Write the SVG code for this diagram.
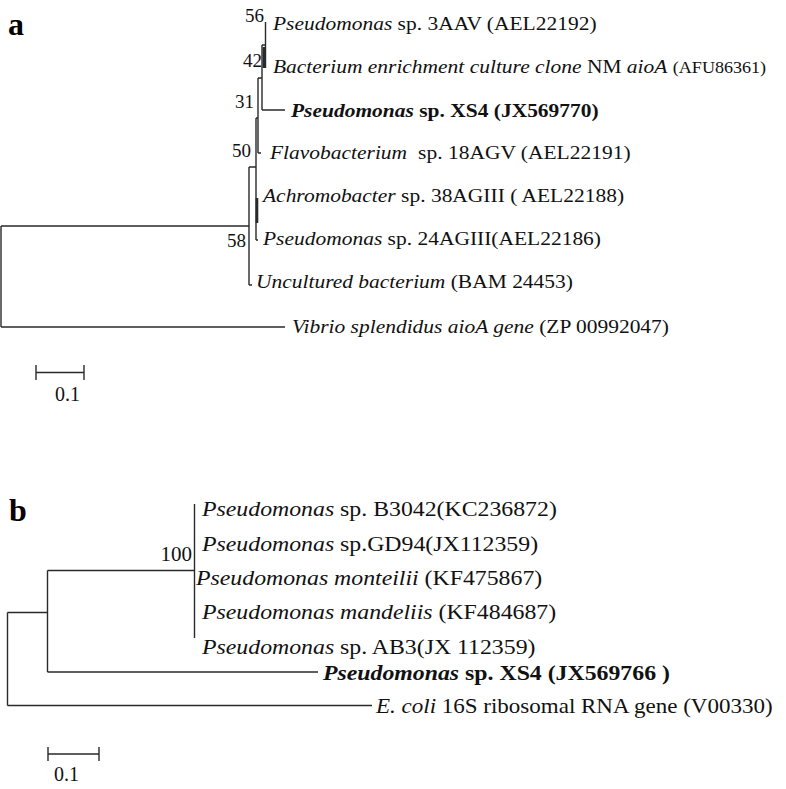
<svg xmlns="http://www.w3.org/2000/svg" width="786" height="789" viewBox="0 0 786 789">
<style>
  .t { font-family: "Liberation Serif", "Times New Roman", serif; fill: #111; }
  .ta { font-size: 19px; }
  .tb { font-size: 20px; }
  .sm { font-size: 16px; }
  .bs { font-family: "Liberation Serif", "Times New Roman", serif; font-size: 19px; fill: #111; text-anchor: end; }
  .pl { font-family: "Liberation Serif", "Times New Roman", serif; font-size: 32px; font-weight: bold; fill: #000; }
  .br { fill: none; stroke: #2a2a2a; stroke-width: 1.4; }
  .thk { fill: none; stroke: #2a2a2a; stroke-width: 2.6; }
</style>
<rect width="786" height="789" fill="#fff"/>

<g id="panel-labels">
  <text class="pl" x="8" y="35">a</text>
  <text class="pl" x="9" y="521">b</text>
</g>

<g id="connectors">
  <!-- panel a -->
  <path class="br" d="M1,226 V327 M1,226 H249 M1,327 H285"/>
  <path class="br" d="M249,167 V285 M249,285 H252 M249,167 H256"/>
  <path class="br" d="M256,118 V240 M256,240 H258"/>
  <path class="thk" d="M257,198 V223"/>
  <path class="br" d="M256,118 H258 M258,78 V153 M258,153 H261"/>
  <path class="br" d="M258,78 H262 M262,45 V110 M262,110 H285"/>
  <path class="br" d="M262,45 H265.5 M265.5,22 V68"/>
  <path class="thk" d="M264,47 V68"/>
  <!-- scale a -->
  <path class="br" d="M36,372.5 H84 M36,365 V380 M84,365 V380"/>
  <!-- panel b -->
  <path class="br" d="M194.5,504 V638 M47.5,570.5 H194.5 M47.5,570.5 V672 M47.5,672 H318"/>
  <path class="br" d="M7.5,612.5 H47.5 M7.5,612.5 V705.5 M7.5,705.5 H372"/>
  <!-- scale b -->
  <path class="br" d="M48,754 H99 M48,747 V761 M99,747 V761"/>
</g>

<g id="bootstrap">
  <text class="bs" x="264" y="22">56</text>
  <text class="bs" x="262" y="67">42</text>
  <text class="bs" x="254" y="108">31</text>
  <text class="bs" x="251" y="157">50</text>
  <text class="bs" x="246" y="247">58</text>
  <text class="bs" x="192" y="561" style="font-size:21px">100</text>
</g>

<g id="scale-labels">
  <text class="t" x="55" y="401" style="font-size:20px">0.1</text>
  <text class="t" x="54" y="781" style="font-size:20px">0.1</text>
</g>

<g id="a-3AAV"><text class="t ta" transform="translate(273 30) scale(1.13 1)"><tspan font-style="italic">Pseudomonas</tspan> sp. 3AAV (AEL22192)</text></g>
<g id="a-NM"><text class="t ta" transform="translate(273 73) scale(1.13 1)"><tspan font-style="italic">Bacterium enrichment culture clone</tspan> NM <tspan font-style="italic">aioA</tspan> <tspan class="sm">(AFU86361)</tspan></text></g>
<g id="a-XS4"><text class="t ta" font-weight="bold" transform="translate(291 117) scale(1.13 1)"><tspan font-style="italic">Pseudomonas</tspan> sp. XS4 (JX569770)</text></g>
<g id="a-18AGV"><text class="t ta" transform="translate(270 159) scale(1.13 1)"><tspan font-style="italic">Flavobacterium</tspan><tspan dx="5"> sp. 18AGV (AEL22191)</tspan></text></g>
<g id="a-38AGIII"><text class="t ta" transform="translate(263 202) scale(1.13 1)"><tspan font-style="italic">Achromobacter</tspan> sp. 38AGIII ( AEL22188)</text></g>
<g id="a-24AGIII"><text class="t ta" transform="translate(263 245) scale(1.13 1)"><tspan font-style="italic">Pseudomonas</tspan> sp. 24AGIII(AEL22186)</text></g>
<g id="a-BAM"><text class="t ta" transform="translate(256 288) scale(1.13 1)"><tspan font-style="italic">Uncultured bacterium</tspan> (BAM 24453)</text></g>
<g id="a-ZP"><text class="t ta" transform="translate(292 333) scale(1.13 1)"><tspan font-style="italic">Vibrio splendidus aioA gene</tspan> (ZP 00992047)</text></g>

<g id="b-B3042"><text class="t tb" transform="translate(202 516) scale(1.19 1)"><tspan font-style="italic">Pseudomonas</tspan> sp. B3042(KC236872)</text></g>
<g id="b-GD94"><text class="t tb" transform="translate(202 551) scale(1.19 1)"><tspan font-style="italic">Pseudomonas</tspan> sp.GD94(JX112359)</text></g>
<g id="b-monteilii"><text class="t tb" transform="translate(196 585) scale(1.19 1)"><tspan font-style="italic">Pseudomonas monteilii</tspan> (KF475867)</text></g>
<g id="b-mandeliis"><text class="t tb" transform="translate(202 619) scale(1.19 1)"><tspan font-style="italic">Pseudomonas mandeliis</tspan> (KF484687)</text></g>
<g id="b-AB3"><text class="t tb" transform="translate(202 654) scale(1.19 1)"><tspan font-style="italic">Pseudomonas</tspan> sp. AB3(JX 112359)</text></g>
<g id="b-XS4"><text class="t tb" font-weight="bold" transform="translate(323 680) scale(1.19 1)"><tspan font-style="italic">Pseudomonas</tspan> sp. XS4 (JX569766 )</text></g>
<g id="b-ecoli"><text class="t tb" transform="translate(376 713) scale(1.15 1)"><tspan font-style="italic">E. coli</tspan> 16S ribosomal RNA gene (V00330)</text></g>
</svg>
